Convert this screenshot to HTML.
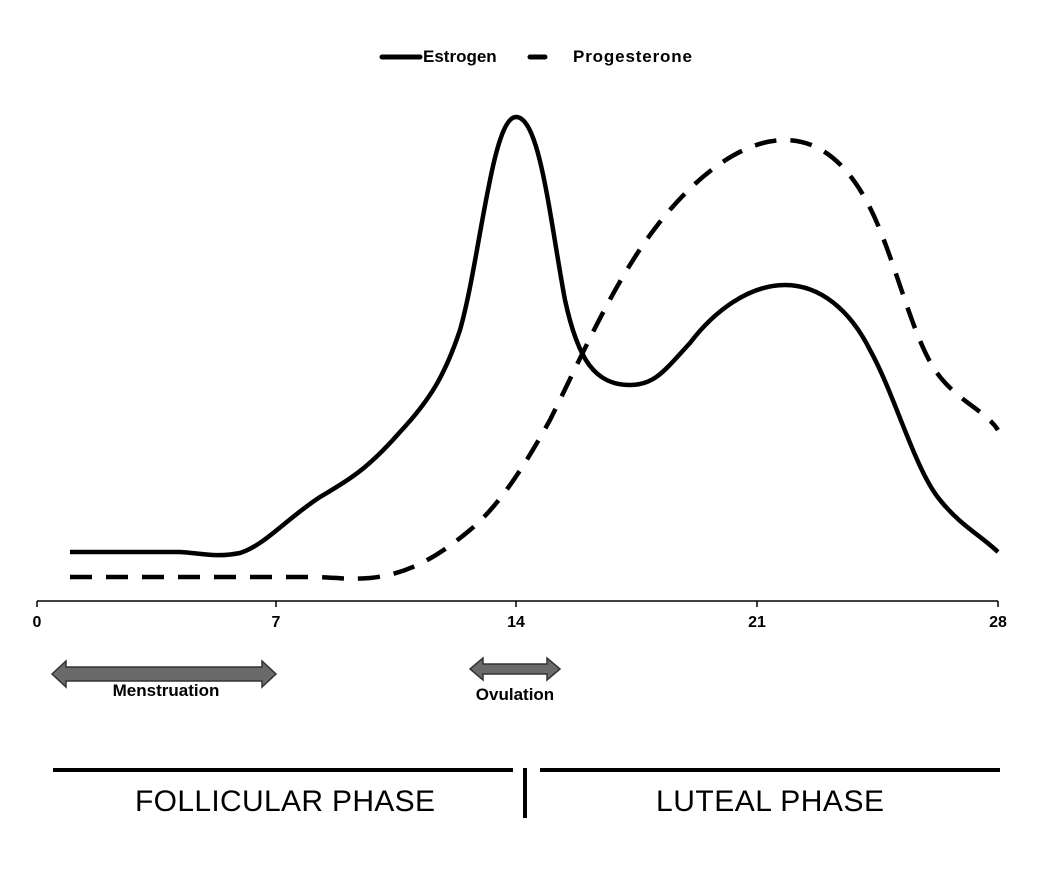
<!DOCTYPE html>
<html><head><style>body{margin:0;background:#fff}svg{display:block}</style></head><body>
<svg width="1055" height="872" viewBox="0 0 1055 872" xmlns="http://www.w3.org/2000/svg" font-family="Liberation Sans, sans-serif">
<rect width="1055" height="872" fill="#fff"/>
<!-- legend -->
<line x1="382" y1="57" x2="420" y2="57" stroke="#000" stroke-width="5" stroke-linecap="round"/>
<text x="423" y="62" font-size="17" font-weight="bold">Estrogen</text>
<line x1="530" y1="57" x2="545" y2="57" stroke="#000" stroke-width="5" stroke-linecap="round"/>
<text x="573" y="62" font-size="17" font-weight="bold" textLength="119">Progesterone</text>
<!-- axis -->
<line x1="37" y1="601" x2="998" y2="601" stroke="#000" stroke-width="1.5"/>
<g stroke="#000" stroke-width="1.5">
<line x1="37" y1="601" x2="37" y2="607"/><line x1="276" y1="601" x2="276" y2="607"/><line x1="516" y1="601" x2="516" y2="607"/><line x1="757" y1="601" x2="757" y2="607"/><line x1="998" y1="601" x2="998" y2="607"/>
</g>
<g font-size="16" font-weight="bold" text-anchor="middle">
<text x="37" y="627">0</text><text x="276" y="627">7</text><text x="516" y="627">14</text><text x="757" y="627">21</text><text x="998" y="627">28</text>
</g>
<!-- curves -->
<path d="M70,552 L180,552 C200,553 215,558 240,553 C265,545 285,520 320,497 C345,482 365,472 400,432 C430,400 445,375 460,330 C480,260 492,117 516,117 C540,117 550,220 565,300 C578,360 595,385 630,385 C655,385 665,370 690,343 C715,310 750,285 785,285 C820,285 850,310 870,350 C895,395 915,470 940,500 C960,525 980,535 998,552" fill="none" stroke="#000" stroke-width="4.5"/>
<path d="M70,577 L310,577 C335,577 345,580 370,578 C410,574 440,555 470,530 C500,505 525,465 550,420 C580,360 610,290 650,235 C690,180 740,140 785,140 C830,140 860,180 880,230 C900,280 915,340 935,370 C955,400 985,410 998,430" fill="none" stroke="#000" stroke-width="4.5" stroke-dasharray="22,14"/>
<!-- arrows -->
<path d="M52,674 L66,661 L66,667 L262,667 L262,661 L276,674 L262,687 L262,681 L66,681 L66,687 Z" fill="#6a6a6a" stroke="#333" stroke-width="1.5"/>
<text x="166" y="696" font-size="17" font-weight="bold" text-anchor="middle">Menstruation</text>
<path d="M470,669 L483,658 L483,664 L547,664 L547,658 L560,669 L547,680 L547,674 L483,674 L483,680 Z" fill="#6a6a6a" stroke="#333" stroke-width="1.5"/>
<text x="515" y="700" font-size="17" font-weight="bold" text-anchor="middle">Ovulation</text>
<!-- phases -->
<line x1="53" y1="770" x2="513" y2="770" stroke="#000" stroke-width="4"/>
<line x1="540" y1="770" x2="1000" y2="770" stroke="#000" stroke-width="4"/>
<line x1="525" y1="768" x2="525" y2="818" stroke="#000" stroke-width="4"/>
<text x="285" y="811" font-size="30" text-anchor="middle" textLength="300">FOLLICULAR PHASE</text>
<text x="770" y="811" font-size="30" text-anchor="middle" textLength="228">LUTEAL PHASE</text>
</svg>
</body></html>
